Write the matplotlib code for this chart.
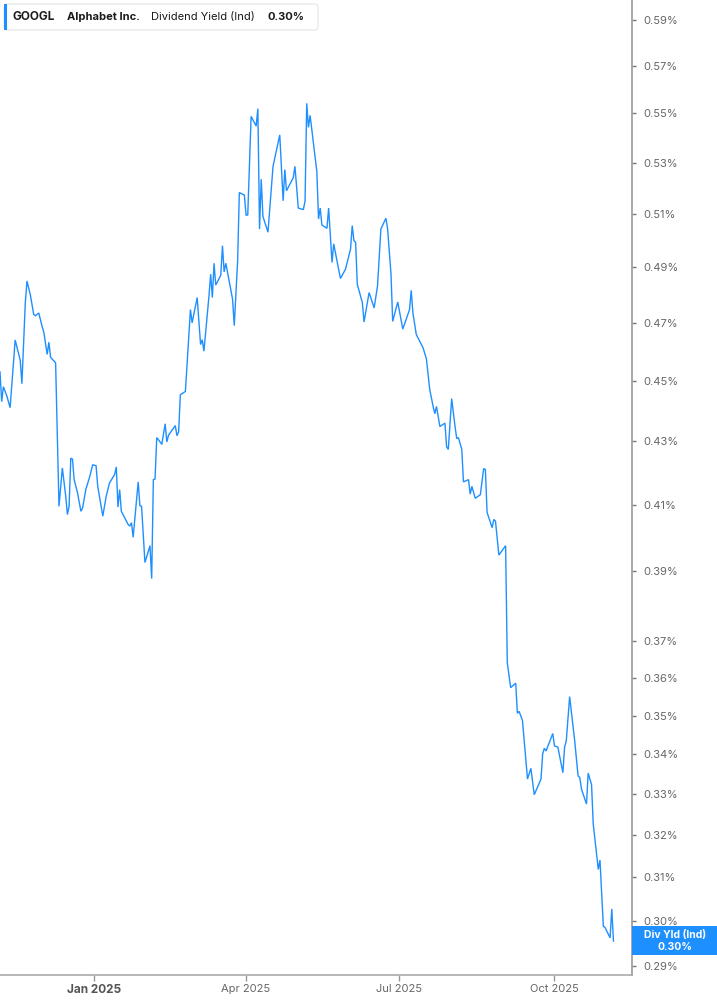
import matplotlib
matplotlib.use('Agg')
import matplotlib.pyplot as plt
import matplotlib.dates as mdates
import matplotlib.ticker as mticker
from matplotlib.patches import FancyBboxPatch, Rectangle
import pandas as pd

plt.rcParams['font.family'] = ['Inter', 'DejaVu Sans']

# ---------------- data ----------------
dates = [
    "2024-11-06", "2024-11-07", "2024-11-08", "2024-11-10", "2024-11-12", "2024-11-15",
    "2024-11-18", "2024-11-19", "2024-11-21", "2024-11-22", "2024-11-24", "2024-11-26",
    "2024-11-27", "2024-11-29", "2024-12-01", "2024-12-02", "2024-12-04", "2024-12-05",
    "2024-12-06", "2024-12-09", "2024-12-11", "2024-12-13", "2024-12-15", "2024-12-16",
    "2024-12-17", "2024-12-18", "2024-12-19", "2024-12-20", "2024-12-22", "2024-12-24",
    "2024-12-25", "2024-12-27", "2024-12-29", "2024-12-31", "2025-01-02", "2025-01-03",
    "2025-01-06", "2025-01-08", "2025-01-10", "2025-01-13", "2025-01-14", "2025-01-15",
    "2025-01-16", "2025-01-17", "2025-01-21", "2025-01-22", "2025-01-23", "2025-01-24",
    "2025-01-27", "2025-01-28", "2025-01-29", "2025-01-31", "2025-02-03", "2025-02-04",
    "2025-02-05", "2025-02-06", "2025-02-07", "2025-02-09", "2025-02-10", "2025-02-12",
    "2025-02-13", "2025-02-14", "2025-02-18", "2025-02-19", "2025-02-20", "2025-02-21",
    "2025-02-24", "2025-02-27", "2025-02-28", "2025-03-03", "2025-03-05", "2025-03-06",
    "2025-03-07", "2025-03-10", "2025-03-11", "2025-03-12", "2025-03-13", "2025-03-14",
    "2025-03-17", "2025-03-18", "2025-03-19", "2025-03-20", "2025-03-24", "2025-03-25",
    "2025-03-27", "2025-03-28", "2025-03-31", "2025-04-01", "2025-04-02", "2025-04-04",
    "2025-04-07", "2025-04-08", "2025-04-09", "2025-04-10", "2025-04-11", "2025-04-14",
    "2025-04-17", "2025-04-21", "2025-04-23", "2025-04-24", "2025-04-25", "2025-04-29",
    "2025-04-30", "2025-05-02", "2025-05-05", "2025-05-06", "2025-05-07", "2025-05-08",
    "2025-05-09", "2025-05-13", "2025-05-14", "2025-05-15", "2025-05-16", "2025-05-19",
    "2025-05-20", "2025-05-22", "2025-05-23", "2025-05-27", "2025-05-30", "2025-06-02",
    "2025-06-03", "2025-06-04", "2025-06-05", "2025-06-06", "2025-06-09", "2025-06-10",
    "2025-06-13", "2025-06-16", "2025-06-18", "2025-06-20", "2025-06-23", "2025-06-24",
    "2025-06-26", "2025-06-27", "2025-06-30", "2025-07-03", "2025-07-07", "2025-07-08",
    "2025-07-09", "2025-07-11", "2025-07-15", "2025-07-17", "2025-07-19", "2025-07-21",
    "2025-07-22", "2025-07-23", "2025-07-25", "2025-07-28", "2025-07-29", "2025-07-30",
    "2025-08-01", "2025-08-03", "2025-08-04", "2025-08-05", "2025-08-06", "2025-08-07",
    "2025-08-08", "2025-08-11", "2025-08-12", "2025-08-13", "2025-08-15", "2025-08-18",
    "2025-08-20", "2025-08-21", "2025-08-22", "2025-08-25", "2025-08-26", "2025-08-27",
    "2025-08-29", "2025-09-02", "2025-09-03", "2025-09-05", "2025-09-08", "2025-09-09",
    "2025-09-10", "2025-09-12", "2025-09-15", "2025-09-17", "2025-09-19", "2025-09-23",
    "2025-09-24", "2025-09-25", "2025-09-26", "2025-09-30", "2025-10-01", "2025-10-03",
    "2025-10-06", "2025-10-07", "2025-10-08", "2025-10-10", "2025-10-13", "2025-10-15",
    "2025-10-16", "2025-10-17", "2025-10-20", "2025-10-21", "2025-10-23", "2025-10-24",
    "2025-10-27", "2025-10-28", "2025-10-30", "2025-10-31", "2025-11-03", "2025-11-04",
    "2025-11-05",
]

div_yield_pct = [
    0.453, 0.443, 0.448, 0.445, 0.441, 0.464,
    0.457, 0.449, 0.477, 0.485, 0.480, 0.473,
    0.4725, 0.4735, 0.4687, 0.4667, 0.459, 0.4632,
    0.458, 0.4561, 0.4095, 0.4215, 0.4126, 0.407,
    0.4095, 0.4246, 0.4243, 0.4178, 0.4137, 0.408,
    0.409, 0.4149, 0.4183, 0.4225, 0.4222, 0.4157,
    0.4065, 0.4126, 0.4168, 0.4194, 0.4218, 0.4093,
    0.4147, 0.408, 0.404, 0.4035, 0.4045, 0.4001,
    0.4171, 0.4097, 0.4095, 0.3926, 0.3976, 0.3879,
    0.4178, 0.418, 0.4312, 0.4298, 0.429, 0.4357,
    0.4298, 0.432, 0.4351, 0.4318, 0.4331, 0.4453,
    0.4464, 0.4747, 0.470, 0.479, 0.4624, 0.4641,
    0.4601, 0.4796, 0.4875, 0.479, 0.4915, 0.4835,
    0.4871, 0.498, 0.4883, 0.4915, 0.4784, 0.469,
    0.4924, 0.5183, 0.5173, 0.5096, 0.5096, 0.5488,
    0.5448, 0.552, 0.5043, 0.5235, 0.5091, 0.5031,
    0.5286, 0.5412, 0.5151, 0.5273, 0.519, 0.5241,
    0.5286, 0.5123, 0.5117, 0.515, 0.5542, 0.5443,
    0.5492, 0.5265, 0.5081, 0.5123, 0.5058, 0.5046,
    0.5123, 0.4918, 0.4987, 0.4859, 0.4893, 0.4968,
    0.5056, 0.4999, 0.4993, 0.4838, 0.4772, 0.4703,
    0.4808, 0.4753, 0.4832, 0.5043, 0.5084, 0.5043,
    0.4875, 0.4705, 0.4774, 0.4678, 0.4747, 0.4816,
    0.4735, 0.4659, 0.4613, 0.4575, 0.447, 0.4414,
    0.439, 0.4414, 0.4348, 0.4359, 0.4282, 0.4274,
    0.444, 0.4348, 0.4309, 0.4312, 0.4293, 0.4274,
    0.4171, 0.4178, 0.4133, 0.4157, 0.412, 0.4131,
    0.4213, 0.421, 0.4077, 0.403, 0.4055, 0.405,
    0.3948, 0.3976, 0.3642, 0.3574, 0.3586, 0.3506,
    0.3511, 0.3487, 0.3337, 0.3364, 0.3298, 0.3337,
    0.3401, 0.3415, 0.3408, 0.3453, 0.3421, 0.3418,
    0.3353, 0.3418, 0.3434, 0.355, 0.3434, 0.3345,
    0.3341, 0.3312, 0.3275, 0.3352, 0.3323, 0.3226,
    0.3118, 0.314, 0.2988, 0.2985, 0.2962, 0.3027,
    0.2955,
]

y_ticks = [0.29, 0.30, 0.31, 0.32, 0.33, 0.34, 0.35, 0.36, 0.37, 0.39,
           0.41, 0.43, 0.45, 0.47, 0.49, 0.51, 0.53, 0.55, 0.57, 0.59]
x_ticks = ["2025-01-01", "2025-04-01", "2025-07-01", "2025-10-01"]
x_tick_labels = ["Jan 2025", "Apr 2025", "Jul 2025", "Oct 2025"]

ticker_sym = "GOOGL"
company = "Alphabet Inc."
metric = "Dividend Yield (Ind)"
last_label = "0.30%"
tag_title = "Div Yld (Ind)"

# ---------------- drawing ----------------
W, H = 717, 1005
BLUE = "#1e8fff"
fig = plt.figure(figsize=(W / 100, H / 100), dpi=100)
fig.patch.set_facecolor("white")

def fx(px):
    return px / W

def fy(py):
    return 1 - py / H

ax = fig.add_axes([0, fy(975), fx(632), 975 / H])
x = pd.to_datetime(dates)
ax.plot(x, div_yield_pct, color=BLUE, lw=1.0, solid_joinstyle="miter")

ax.set_yscale("log")
ax.set_ylim(0.28805, 0.5989)
ax.set_xlim(pd.Timestamp("2024-11-06"), pd.Timestamp("2025-11-16"))

ax.yaxis.tick_right()
ax.yaxis.set_major_locator(mticker.FixedLocator(y_ticks))
ax.yaxis.set_minor_locator(mticker.NullLocator())
ax.yaxis.set_major_formatter(mticker.FixedFormatter([f"{v:.2f}%" for v in y_ticks]))
ax.tick_params(axis="y", which="major", direction="out", length=3, width=1,
               color="#777777", labelcolor="#666666", labelsize=8, pad=5)

ax.xaxis.set_major_locator(mticker.FixedLocator(mdates.date2num(pd.to_datetime(x_ticks))))
ax.xaxis.set_major_formatter(mticker.FixedFormatter(x_tick_labels))
ax.xaxis.set_minor_locator(mticker.NullLocator())
ax.tick_params(axis="x", which="major", direction="out", length=4, width=1,
               color="#999999", labelcolor="#666666", labelsize=8, pad=2.5)
for lbl in ax.get_xticklabels():
    if lbl.get_text() == "Jan 2025":
        lbl.set_fontweight("bold")
        lbl.set_color("#555555")
        lbl.set_fontsize(8.5)

for s in ["top", "left"]:
    ax.spines[s].set_visible(False)
ax.spines["right"].set_color("#999999")
ax.spines["bottom"].set_color("#aaaaaa")
ax.spines["right"].set_linewidth(1.2)
ax.spines["bottom"].set_linewidth(1.2)

# legend box top-left
box = FancyBboxPatch((fx(4), fy(30)), fx(318) - fx(4), (30 - 4) / H,
                     boxstyle="round,pad=0,rounding_size=0.004",
                     transform=fig.transFigure, facecolor="white",
                     edgecolor="#e4e4e4", lw=0.8, zorder=5)
fig.patches.append(box)
fig.patches.append(Rectangle((fx(3.5), fy(30)), fx(3), (30 - 4) / H,
                             transform=fig.transFigure, facecolor=BLUE,
                             edgecolor="none", zorder=6))
ty = fy(17)
fig.text(fx(13), ty, ticker_sym, fontsize=8.5, fontweight="bold", color="#1a1a1a", va="center", zorder=7)
fig.text(fx(67), ty, company, fontsize=8, fontweight="bold", color="#1a1a1a", va="center", zorder=7)
fig.text(fx(151), ty, metric, fontsize=8, color="#1a1a1a", va="center", zorder=7)
fig.text(fx(268), ty, last_label, fontsize=8, fontweight="bold", color="#1a1a1a", va="center", zorder=7)

# right tag for the last value
fig.patches.append(Rectangle((fx(632), fy(955)), fx(717) - fx(632), (955 - 926) / H,
                             transform=fig.transFigure, facecolor=BLUE,
                             edgecolor="none", zorder=6))
fig.text(fx(675), fy(935), tag_title, fontsize=7.5, fontweight="bold", color="white",
         ha="center", va="center", zorder=7)
fig.text(fx(675), fy(946.5), last_label, fontsize=7.5, fontweight="bold", color="white",
         ha="center", va="center", zorder=7)

fig.savefig("out.png", dpi=100, facecolor="white")
